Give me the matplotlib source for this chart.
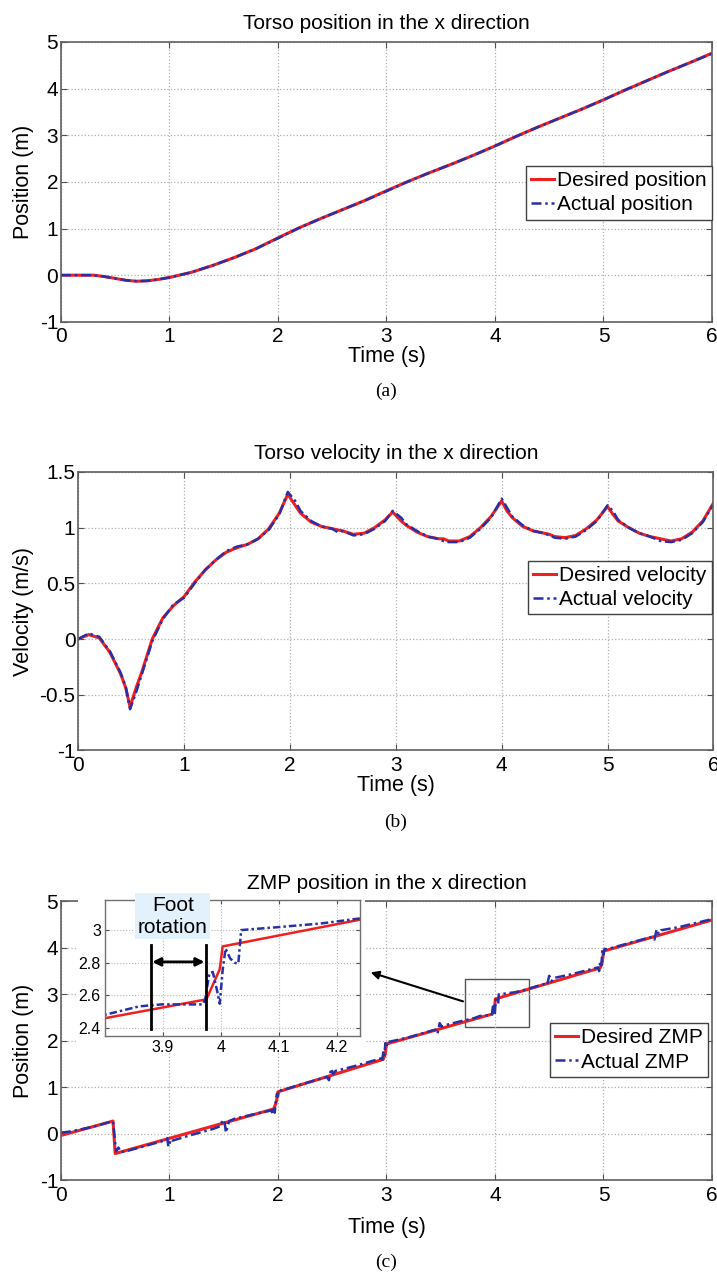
import numpy as np
from matplotlib import pyplot as plt
from matplotlib.patches import Rectangle

plt.rcParams['font.family'] = ['Liberation Sans', 'DejaVu Sans']

# ---- (a) torso position ----
t_pos = [0.0, 0.2, 0.3, 0.4, 0.5, 0.6, 0.7, 0.8, 0.9, 1.0, 1.2, 1.4, 1.6, 1.8, 2.0,
         2.2, 2.4, 2.6, 2.8, 3.0, 3.2, 3.4, 3.6, 3.8, 4.0, 4.2, 4.4, 4.6, 4.8, 5.0,
         5.2, 5.4, 5.6, 5.8, 6.0]
pos_des = [0.0, 0.0, 0.0, -0.03, -0.07, -0.11, -0.13, -0.12, -0.09, -0.05, 0.06, 0.21,
           0.38, 0.57, 0.80, 1.02, 1.22, 1.41, 1.60, 1.81, 2.01, 2.20, 2.38, 2.57, 2.77,
           2.98, 3.18, 3.37, 3.56, 3.76, 3.97, 4.17, 4.37, 4.56, 4.76]
pos_act = [0.0, 0.0, 0.0, -0.03, -0.07, -0.11, -0.13, -0.12, -0.09, -0.05, 0.06, 0.21,
           0.38, 0.57, 0.79, 1.02, 1.22, 1.41, 1.60, 1.80, 2.01, 2.20, 2.38, 2.57, 2.77,
           2.98, 3.18, 3.37, 3.56, 3.76, 3.97, 4.17, 4.37, 4.56, 4.75]

# ---- (b) torso velocity ----
t_vel = [0.0, 0.1, 0.2, 0.3, 0.4, 0.45, 0.49, 0.55, 0.6, 0.7, 0.8, 0.9, 1.0, 1.1, 1.2,
         1.3, 1.4, 1.5, 1.6, 1.7, 1.8, 1.9, 1.98, 2.05, 2.1, 2.2, 2.3, 2.4, 2.45, 2.5,
         2.6, 2.7, 2.8, 2.9, 2.97, 3.05, 3.1, 3.2, 3.3, 3.4, 3.45, 3.5, 3.6, 3.7, 3.8,
         3.9, 4.0, 4.05, 4.1, 4.2, 4.3, 4.4, 4.45, 4.5, 4.6, 4.7, 4.8, 4.9, 5.0, 5.05,
         5.1, 5.2, 5.3, 5.4, 5.45, 5.5, 5.6, 5.7, 5.8, 5.9, 6.0]
vel_des = [0.0, 0.04, 0.01, -0.12, -0.31, -0.44, -0.61, -0.43, -0.30, 0.0, 0.19, 0.30,
           0.38, 0.51, 0.62, 0.71, 0.78, 0.82, 0.85, 0.90, 0.99, 1.13, 1.30, 1.20, 1.13,
           1.05, 1.01, 0.99, 0.98, 0.97, 0.94, 0.95, 1.00, 1.07, 1.14, 1.06, 1.02, 0.96,
           0.92, 0.90, 0.90, 0.88, 0.88, 0.92, 1.00, 1.10, 1.24, 1.15, 1.09, 1.01, 0.97,
           0.95, 0.94, 0.92, 0.91, 0.93, 0.99, 1.07, 1.19, 1.12, 1.06, 1.00, 0.95, 0.92,
           0.91, 0.90, 0.88, 0.90, 0.96, 1.06, 1.22]
vel_act = [0.0, 0.05, 0.02, -0.11, -0.30, -0.43, -0.63, -0.47, -0.32, -0.02, 0.18, 0.31,
           0.37, 0.50, 0.62, 0.71, 0.79, 0.83, 0.85, 0.90, 0.98, 1.12, 1.32, 1.24, 1.15,
           1.06, 1.01, 0.99, 0.96, 0.97, 0.93, 0.94, 0.99, 1.06, 1.15, 1.09, 1.03, 0.97,
           0.92, 0.90, 0.88, 0.87, 0.87, 0.91, 0.99, 1.09, 1.26, 1.18, 1.10, 1.02, 0.97,
           0.95, 0.93, 0.91, 0.90, 0.92, 0.98, 1.06, 1.20, 1.15, 1.07, 1.00, 0.95, 0.92,
           0.90, 0.88, 0.87, 0.89, 0.95, 1.05, 1.21]

# ---- (c) ZMP position ----
t_zmp_des = [0.0, 0.48, 0.50, 1.96, 1.985, 2.0, 2.97, 2.99, 3.0, 3.975, 3.998, 4.003,
             4.97, 4.99, 5.0, 6.0]
zmp_des = [-0.04, 0.27, -0.43, 0.53, 0.68, 0.90, 1.60, 1.72, 1.93, 2.575, 2.76, 2.90,
           3.57, 3.70, 3.93, 4.60]
t_zmp_act = [0.0, 0.1, 0.2, 0.3, 0.45, 0.48, 0.50, 0.51, 0.53, 0.55, 0.6, 0.8, 0.97,
             0.98, 0.99, 1.0, 1.01, 1.03, 1.2, 1.4, 1.47, 1.49, 1.51, 1.52, 1.53, 1.55,
             1.6, 1.8, 1.94, 1.95, 1.96, 1.97, 1.98, 1.99, 2.0, 2.01, 2.03, 2.2, 2.45,
             2.47, 2.49, 2.51, 2.53, 2.7, 2.95, 2.96, 2.97, 2.98, 2.99, 3.0, 3.01, 3.03,
             3.2, 3.45, 3.47, 3.49, 3.51, 3.55, 3.7, 3.802, 3.859, 3.898, 3.969, 3.973,
             3.980, 3.986, 3.992, 3.998, 4.003, 4.008, 4.016, 4.024, 4.030, 4.035, 4.047,
             4.094, 4.173, 4.240, 4.45, 4.48, 4.5, 4.52, 4.54, 4.7, 4.95, 4.96, 4.97,
             4.98, 4.99, 5.0, 5.01, 5.03, 5.2, 5.45, 5.47, 5.49, 5.51, 5.53, 5.7, 6.0]
zmp_act = [0.02, 0.05, 0.10, 0.15, 0.25, 0.26, -0.20, -0.38, -0.30, -0.40, -0.38, -0.25,
           -0.14, -0.10, -0.28, -0.25, -0.12, -0.15, -0.03, 0.10, 0.16, 0.30, 0.22, 0.02,
           0.10, 0.27, 0.32, 0.43, 0.50, 0.42, 0.58, 0.45, 0.70, 0.85, 0.80, 0.95, 0.93,
           1.05, 1.22, 1.15, 1.40, 1.28, 1.35, 1.45, 1.62, 1.55, 1.75, 1.65, 1.95, 1.85,
           2.00, 1.98, 2.07, 2.24, 2.15, 2.38, 2.30, 2.34, 2.43, 2.482, 2.532, 2.544,
           2.544, 2.579, 2.733, 2.743, 2.651, 2.548, 2.754, 2.887, 2.826, 2.799, 2.795,
           3.0, 3.004, 3.017, 3.041, 3.072, 3.22, 3.20, 3.40, 3.28, 3.35, 3.43, 3.58,
           3.50, 3.70, 3.62, 3.95, 3.85, 3.98, 3.97, 4.08, 4.24, 4.18, 4.40, 4.30, 4.38,
           4.45, 4.62]

red = '#f02020'
blue = '#2830a8'
fs = 15
dashdot = (0, (4, 1.5, 1, 1.5))


def style(ax, ylim, yticks):
    ax.set_xlim(0, 6)
    ax.set_ylim(*ylim)
    ax.set_xticks(range(7))
    ax.set_yticks(yticks)
    ax.set_yticklabels(['%g' % v for v in yticks])
    ax.tick_params(direction='in', top=True, right=True, length=4, width=0.8,
                   labelsize=fs, pad=2, color='#505050')
    ax.tick_params(axis='x', pad=4)
    ax.grid(True, linestyle=':', color='#b0b0b0', linewidth=0.9)
    for s in ax.spines.values():
        s.set_color('#606060')
        s.set_linewidth(1.2)


def curves(ax, t1, y1, t2, y2):
    ax.plot(t1, y1, color=red, linewidth=2.2)
    ax.plot(t2, y2, color=blue, linewidth=1.8, linestyle=dashdot)


def legend(ax, labels, anchor):
    h1, = ax.plot([], [], color=red, linewidth=2.2)
    h2, = ax.plot([], [], color=blue, linewidth=1.8, linestyle=dashdot)
    lg = ax.legend([h1, h2], labels, loc='upper right', bbox_to_anchor=anchor,
                   borderaxespad=0, fontsize=fs, fancybox=False, framealpha=1,
                   edgecolor='#404040', handlelength=1.1, handletextpad=0.15,
                   labelspacing=0.25, borderpad=0.25)
    lg.get_frame().set_linewidth(1.0)


fig = plt.figure(figsize=(7.17, 12.72), dpi=100)

# (a)
ax1 = fig.add_axes([0.085, 0.747, 0.908, 0.220])
curves(ax1, t_pos, pos_des, t_pos, pos_act)
style(ax1, (-1, 5), [-1, 0, 1, 2, 3, 4, 5])
ax1.set_title('Torso position in the x direction', fontsize=15, pad=9)
ax1.set_xlabel('Time (s)', fontsize=15.5, labelpad=0)
ax1.set_ylabel('Position (m)', fontsize=15.5)
ax1.yaxis.set_label_coords(-0.042, 0.5)
legend(ax1, ['Desired position', 'Actual position'], (1.0, 0.557))
ax1.text(0.5, -0.25, '(a)', transform=ax1.transAxes, ha='center', va='center',
         fontsize=14, family='Liberation Serif')

# (b)
ax2 = fig.add_axes([0.109, 0.410, 0.886, 0.219])
curves(ax2, t_vel, vel_des, t_vel, vel_act)
style(ax2, (-1, 1.5), [-1, -0.5, 0, 0.5, 1, 1.5])
ax2.set_title('Torso velocity in the x direction', fontsize=15, pad=9)
ax2.set_xlabel('Time (s)', fontsize=15.5, labelpad=0)
ax2.set_ylabel('Velocity (m/s)', fontsize=15.5)
ax2.yaxis.set_label_coords(-0.069, 0.5)
legend(ax2, ['Desired velocity', 'Actual velocity'], (0.997, 0.681))
ax2.text(0.5, -0.258, '(b)', transform=ax2.transAxes, ha='center', va='center',
         fontsize=14, family='Liberation Serif')

# (c)
ax3 = fig.add_axes([0.085, 0.0723, 0.908, 0.219])
curves(ax3, t_zmp_des, zmp_des, t_zmp_act, zmp_act)
style(ax3, (-1, 5), [-1, 0, 1, 2, 3, 4, 5])
ax3.set_title('ZMP position in the x direction', fontsize=15, pad=9)
ax3.set_xlabel('Time (s)', fontsize=15.5, labelpad=9)
ax3.set_ylabel('Position (m)', fontsize=15.5)
ax3.yaxis.set_label_coords(-0.042, 0.5)
legend(ax3, ['Desired ZMP', 'Actual ZMP'], (0.994, 0.563))
ax3.text(0.5, -0.294, '(c)', transform=ax3.transAxes, ha='center', va='center',
         fontsize=14, family='Liberation Serif')

# zoom box and arrow
ax3.add_patch(Rectangle((3.72, 2.29), 0.59, 1.05, fill=False, edgecolor='#555555',
                        linewidth=1.0))
ax3.annotate('', xy=(2.83, 3.49), xytext=(3.73, 2.83),
             arrowprops=dict(arrowstyle='-|>', color='black', lw=1.5, mutation_scale=12))

# white backing behind the inset
fig.patches.append(Rectangle((78 / 717, 1 - 1052 / 1272), (365 - 78) / 717,
                             (1052 - 894) / 1272, transform=fig.transFigure,
                             facecolor='white', edgecolor='none', zorder=1))

axi = fig.add_axes([105 / 717, 1 - 1036 / 1272, 255 / 717, 136 / 1272])
axi.set_zorder(2)
axi.plot(t_zmp_des, zmp_des, color=red, linewidth=1.8)
axi.plot(t_zmp_act, zmp_act, color=blue, linewidth=1.8, linestyle=(0, (3, 1.2, 1, 1.2)))
axi.set_xlim(3.8, 4.24)
axi.set_ylim(2.35, 3.185)
axi.set_xticks([3.9, 4.0, 4.1, 4.2])
axi.set_xticklabels(['3.9', '4', '4.1', '4.2'])
axi.set_yticks([2.4, 2.6, 2.8, 3.0])
axi.set_yticklabels(['2.4', '2.6', '2.8', '3'])
axi.tick_params(direction='in', top=True, right=True, length=3, labelsize=11.5, pad=3,
                color='#505050')
axi.grid(True, linestyle=':', color='#b8b8b8', linewidth=0.8)
for s in axi.spines.values():
    s.set_color('#707070')
    s.set_linewidth(1.0)

# foot rotation marks
axi.plot([3.879, 3.879], [2.393, 2.909], color='black', linewidth=2, clip_on=False)
axi.plot([3.974, 3.974], [2.393, 2.909], color='black', linewidth=2, clip_on=False)
axi.annotate('', xy=(3.974, 2.805), xytext=(3.879, 2.805),
             arrowprops=dict(arrowstyle='<|-|>', color='black', lw=2, mutation_scale=12,
                             shrinkA=1, shrinkB=1))
axi.text(3.917, 3.085, 'Foot\nrotation', ha='center', va='center', fontsize=15,
         linespacing=1.2, clip_on=False,
         bbox=dict(boxstyle='square,pad=0.12', facecolor='#e2f1fb', edgecolor='none'))

fig.savefig('out.png', dpi=100)
